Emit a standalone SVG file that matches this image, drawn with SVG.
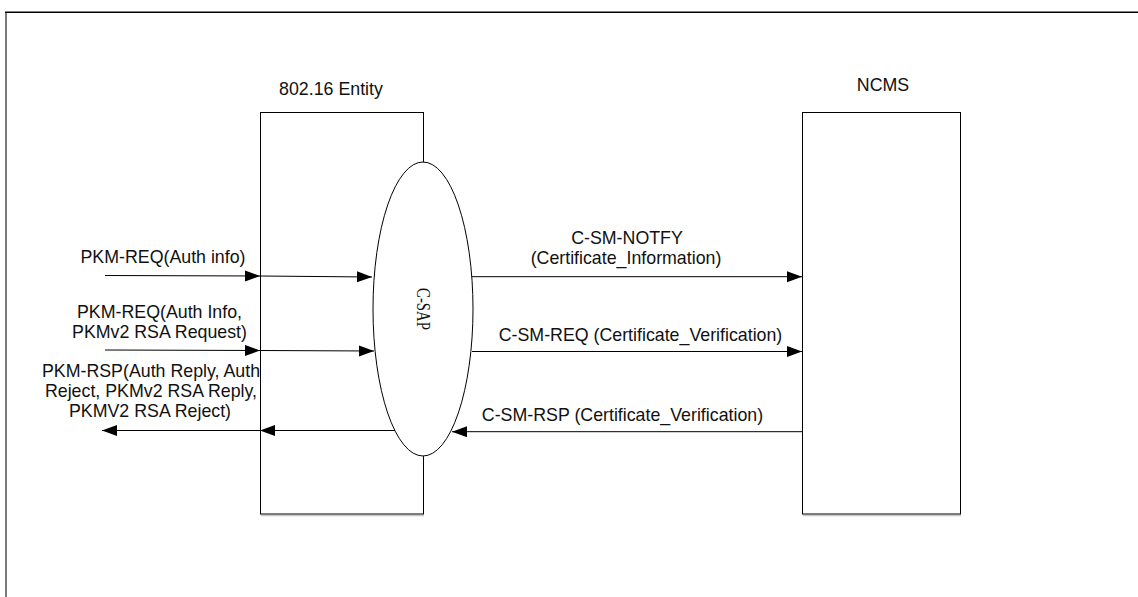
<svg xmlns="http://www.w3.org/2000/svg" width="1138" height="597" viewBox="0 0 1138 597">
  <style>
    .lbl { font-family: "Liberation Sans", Arial, sans-serif; font-size: 17.8px; fill: #111; text-anchor: middle; }
    .sap { font-family: "Liberation Serif", "Times New Roman", serif; font-size: 19px; fill: #111; text-anchor: middle; }
    .box { fill: #fff; stroke: #000; stroke-width: 1; }
    .shadow { stroke: #c8c8c8; stroke-width: 1.5; fill: none; }
    .conn { stroke: #000; stroke-width: 1; fill: none; marker-end: url(#arrow); }
  </style>
  <defs>
    <marker id="arrow" markerUnits="userSpaceOnUse" markerWidth="16" markerHeight="12" refX="15" refY="5.5" orient="auto">
      <path d="M0,0 L15,5.5 L0,11 z" fill="#000"/>
    </marker>
  </defs>

  <rect width="1138" height="597" fill="#fff"/>

  <!-- page frame -->
  <g id="frame">
    <line x1="6" y1="12" x2="6" y2="597" stroke="#7a7a7a" stroke-width="2"/>
    <line x1="5" y1="12.3" x2="1138" y2="12.3" stroke="#000" stroke-width="1.5"/>
  </g>

  <!-- 802.16 entity -->
  <g id="entity">
    <line class="shadow" x1="261" y1="515.5" x2="424" y2="515.5"/>
    <rect class="box" x="260.5" y="112.5" width="163" height="401.5"/>
    <text class="lbl" x="331" y="94.5">802.16 Entity</text>
  </g>

  <!-- NCMS -->
  <g id="ncms">
    <line class="shadow" x1="803" y1="515.5" x2="961" y2="515.5"/>
    <rect class="box" x="802.5" y="112.5" width="158" height="401.5"/>
    <text class="lbl" x="883" y="91">NCMS</text>
  </g>

  <!-- C-SAP service access point -->
  <g id="csap">
    <ellipse class="box" cx="423" cy="309" rx="50" ry="147"/>
    <text class="sap" transform="translate(423,309) rotate(90)" x="0" y="6.5" textLength="42" lengthAdjust="spacingAndGlyphs">C-SAP</text>
  </g>

  <!-- message flows -->
  <g id="connectors">
    <line class="conn" x1="105" y1="275.5" x2="260" y2="276"/>
    <line class="conn" x1="260" y1="276" x2="372" y2="277"/>
    <line class="conn" x1="105" y1="350" x2="260" y2="350.5"/>
    <line class="conn" x1="260" y1="350.5" x2="374" y2="351"/>
    <line class="conn" x1="395" y1="430.5" x2="260" y2="430.5"/>
    <line class="conn" x1="260" y1="430.5" x2="102" y2="430.5"/>
    <line class="conn" x1="472" y1="276.7" x2="802" y2="276.7"/>
    <line class="conn" x1="472" y1="351.5" x2="802" y2="351.5"/>
    <line class="conn" x1="802" y1="431.7" x2="452" y2="431.7"/>
  </g>

  <!-- message labels -->
  <g id="labels">
    <text class="lbl" x="163" y="263">PKM-REQ(Auth info)</text>
    <text class="lbl" x="159.5" y="317.5">PKM-REQ(Auth Info,</text>
    <text class="lbl" x="159.5" y="337.5">PKMv2 RSA Request)</text>
    <text class="lbl" x="151" y="377">PKM-RSP(Auth Reply, Auth</text>
    <text class="lbl" x="151" y="397">Reject, PKMv2 RSA Reply,</text>
    <text class="lbl" x="150" y="417">PKMV2 RSA Reject)</text>
    <text class="lbl" x="627" y="244">C-SM-NOTFY</text>
    <text class="lbl" x="626" y="263.5">(Certificate_Information)</text>
    <text class="lbl" x="640.5" y="341">C-SM-REQ (Certificate_Verification)</text>
    <text class="lbl" x="622.5" y="420.5">C-SM-RSP (Certificate_Verification)</text>
  </g>
</svg>
